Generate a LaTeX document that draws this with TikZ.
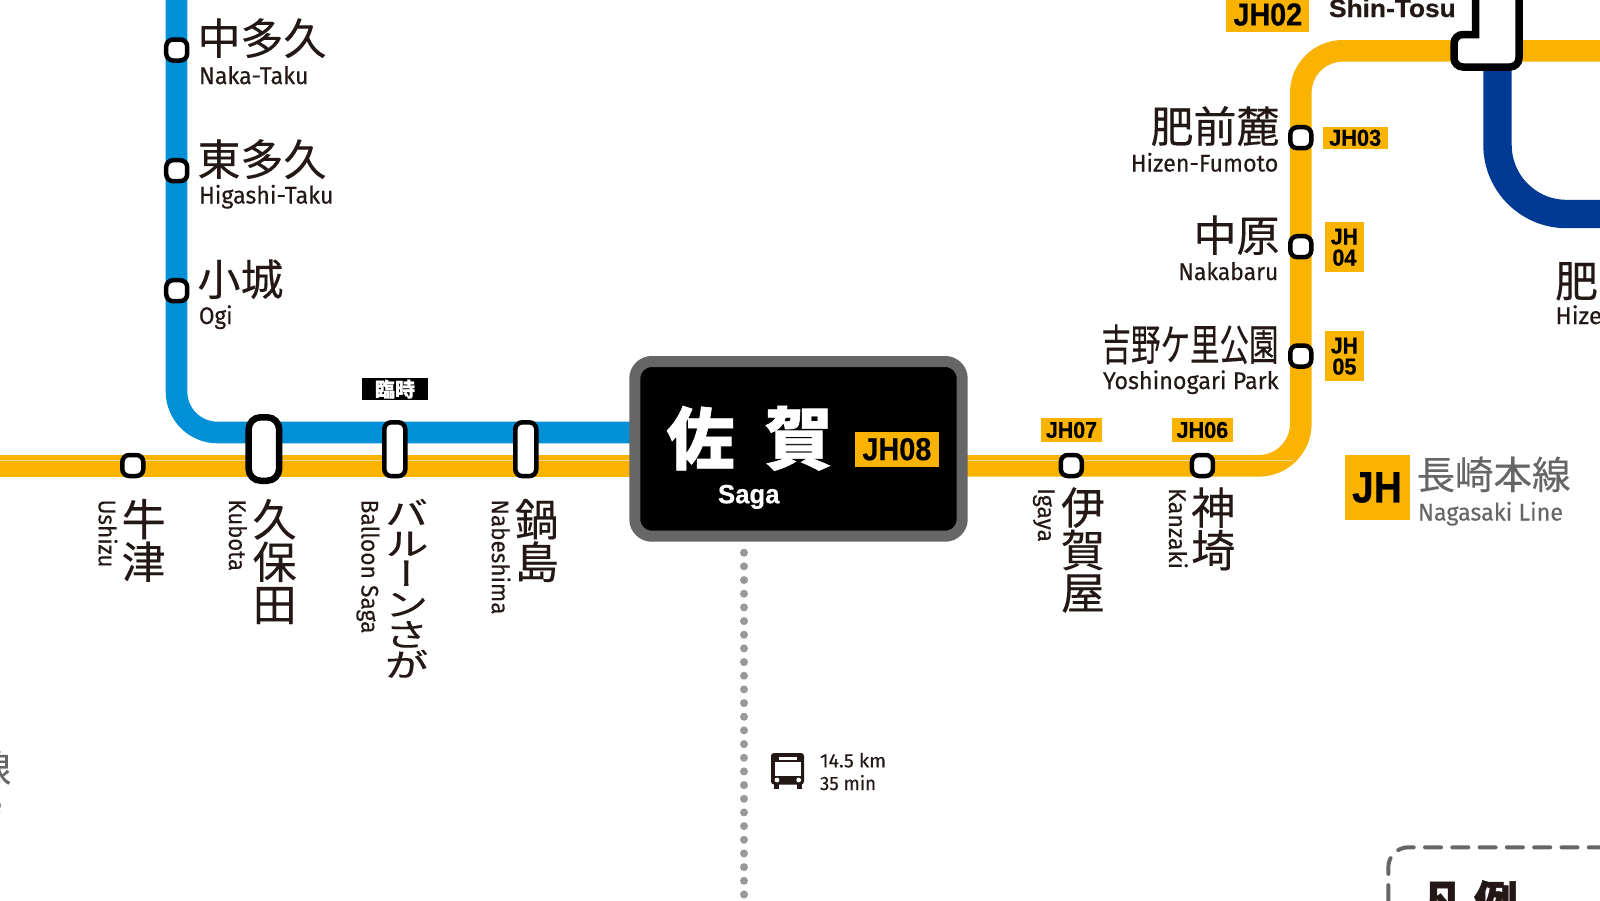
\documentclass[tikz,border=0pt]{standalone}
\usepackage{fontspec}
\setmainfont{Fira Sans}[FakeBold=0.25]
\newfontfamily\cjk{Noto Sans CJK JP}[FakeBold=0.25,BoldFeatures={FakeBold=1}]
\newfontfamily\cjkv{Noto Sans CJK JP}[RawFeature=+vert,FakeBold=0.25]
\newfontfamily\din{Liberation Sans}[BoldFeatures={FakeBold=0.5}]
\definecolor{ink}{HTML}{231815}
\definecolor{orangeline}{HTML}{F9B300}
\definecolor{blueline}{HTML}{0090D7}
\definecolor{navyline}{HTML}{003A94}
\definecolor{sagagray}{HTML}{666666}
\definecolor{dotgray}{HTML}{999999}
\newcommand\fitw[2]{\resizebox{#1pt}{\height}{#2}}
\newcommand\vg[1]{\hbox to 44pt{\hss#1\hss}}
\newcommand\noskip{\lineskiplimit=-100pt\relax}
\tikzset{
  base/.style={inner sep=0,outer sep=0},
  jptext/.style={base,text=ink,font=\cjk\fontsize{43}{41}\selectfont},
  entext/.style={base,text=ink,font=\fontsize{24}{24}\selectfont},
  sta/.style={base,draw=black,fill=white,line width=4.5pt,rounded corners=7pt,minimum width=21pt,minimum height=21pt},
  tallsta/.style={sta,minimum height=53.8pt},
  bigsta/.style={sta,line width=6.5pt,rounded corners=12pt,minimum width=30.5pt,minimum height=63.5pt},
  tag/.style={base,fill=orangeline,text=black,align=center,font=\din\bfseries\fontsize{23}{21}\selectfont},
  oline/.style={orangeline,line width=21.6pt},
  hair/.style={white,opacity=.55,line width=1pt},
  jpstack/.style={jptext,align=center,anchor=north,font=\cjk\fontsize{44}{42.5}\selectfont\noskip},
  enrot/.style={entext,rotate=-90,anchor=base west},
}
\begin{document}
\begin{tikzpicture}[x=1pt,y=-1pt]
\useasboundingbox (0,0) rectangle (1600,900);
\clip (0,0) rectangle (1600,900);
\fill[white] (0,0) rectangle (1600,900);
% line coordinates
\coordinate (bTop) at (176.5,-15);
\coordinate (bBend) at (176.5,432.5);
\coordinate (bEnd) at (640,432.5);
\coordinate (oL) at (-5,465.8);
\coordinate (oLend) at (640,465.8);
\coordinate (oR) at (960,465.8);
\coordinate (oBend1) at (1300.8,465.8);
\coordinate (oBend2) at (1300.8,50.8);
\coordinate (oEnd) at (1605,50.8);
\coordinate (nStart) at (1497.5,60);
\coordinate (nBend) at (1497.5,214);
\coordinate (nEnd) at (1605,214);
\coordinate (hL) at (-5,460.7);
\coordinate (hLe) at (632,460.7);
\coordinate (hR) at (965,460.7);
\coordinate (hRe) at (1293,460.7);
\coordinate (dotA) at (744,552.7);
\coordinate (dotB) at (744,905);
% lines
\draw[blueline,line width=21.6pt,rounded corners=41pt] (bTop) -- (bBend) -- (bEnd);
\draw[oline] (oL) -- (oLend);
\draw[oline,rounded corners=42pt] (oR) -- (oBend1) -- (oBend2) -- (oEnd);
\draw[hair] (hL) -- (hLe);
\draw[hair] (hR) -- (hRe);
\draw[navyline,line width=28.4pt,rounded corners=69pt] (nStart) -- (nBend) -- (nEnd);
\draw[dotgray,line width=8pt,line cap=round,dash pattern=on 0pt off 13.67pt] (dotA) -- (dotB);
% Shin-Tosu station
\draw[black,fill=white,line width=7.5pt,rounded corners=0pt] (1475.5,-20) -- (1475.5,34.5) [rounded corners=9pt] -- (1454,34.5) -- (1454,67) -- (1519,67) -- (1519,-20);
% Saga box
\node[base,draw=sagagray,fill=black,line width=11pt,rounded corners=17pt,minimum width=327.4pt,minimum height=174.7pt] (saga) at (798.5,448.85) {};
\node[base,text=white,font=\cjk\bfseries\fontsize{68}{68}\selectfont,anchor=base] (sagaJ) at (749.5,464) {佐\hspace{30pt}賀};
\node[entext,text=white,font=\din\bfseries\fontsize{26.5}{28}\selectfont,anchor=base west] (sagaE) at (718,503.3) {\fitw{61.5}{Saga}};
\node[tag,minimum width=83.7pt,minimum height=35pt,font=\din\bfseries\fontsize{31.7}{33}\selectfont] (t08) at (896.9,449.2) {\fitw{69}{JH08}};
% stations
\node[sta] (s1) at (176.7,50) {};
\node[sta] (s2) at (176.7,170.7) {};
\node[sta] (s3) at (176.7,290.7) {};
\node[sta] (ushizu) at (132.8,465.5) {};
\node[bigsta] (kubota) at (263.9,449) {};
\node[tallsta] (balloon) at (394.8,449.2) {};
\node[tallsta] (nabe) at (525.8,449.2) {};
\node[sta] (igaya) at (1071.3,465.5) {};
\node[sta] (kanzaki) at (1202.4,465.5) {};
\node[sta] (jh5) at (1300.8,356) {};
\node[sta] (jh4) at (1300.8,246.7) {};
\node[sta] (jh3) at (1300.8,137.7) {};
% left labels
\node[jptext,anchor=base west] (l1j) at (197.5,54.5) {中多久};
\node[entext,anchor=base west] (l1e) at (199,84) {\fitw{109.5}{Naka-Taku}};
\node[jptext,anchor=base west] (l2j) at (197.5,175.5) {東多久};
\node[entext,anchor=base west] (l2e) at (199,203.5) {\fitw{134.5}{Higashi-Taku}};
\node[jptext,anchor=base west] (l3j) at (197.5,295.5) {小城};
\node[entext,anchor=base west] (l3e) at (199,324) {\fitw{33.5}{Ogi}};
% right labels
\node[jptext,anchor=base east] (r3j) at (1279.5,142.5) {肥前麓};
\node[entext,anchor=base east] (r3e) at (1278.3,171.5) {\fitw{147.6}{Hizen-Fumoto}};
\node[jptext,anchor=base east] (r4j) at (1279.5,251.5) {中原};
\node[entext,anchor=base east] (r4e) at (1278.3,280) {\fitw{100}{Nakabaru}};
\node[jptext,anchor=base east] (r5j) at (1278.5,360.5) {\fitw{177}{吉野ケ里公園}};
\node[entext,anchor=base east] (r5e) at (1278.6,389) {\fitw{175.6}{Yoshinogari Park}};
\node[jptext,anchor=base west] (hizej) at (1555,297) {肥前};
\node[entext,anchor=base west] (hizee) at (1555.5,324) {Hizen};
% vertical labels
\node[jpstack] (v1j) at (143.7,499) {牛\\津};
\node[enrot] (v1e) at (98.7,499.5) {\fitw{68}{Ushizu}};
\node[jpstack] (v2j) at (274.6,499) {久\\保\\田};
\node[enrot] (v2e) at (229,499.5) {\fitw{71.5}{Kubota}};
\node[base,text=ink,anchor=north,font=\cjkv\fontsize{44}{41.3}\selectfont\noskip] (v3j) at (406.6,499) {\scalebox{1}[.735]{\vbox{\baselineskip=41.3pt\vg{バ}\vg{ル}\vg{ー}\vg{ン}\vg{さ}\vg{が}}}};
\node[enrot] (v3e) at (361.5,499.5) {\fitw{134}{Balloon Saga}};
\node[jpstack] (v4j) at (537,499) {鍋\\島};
\node[enrot] (v4e) at (491.8,499.5) {\fitw{115}{Nabeshima}};
\node[jpstack] (v5j) at (1083,487.3) {伊\\賀\\屋};
\node[enrot] (v5e) at (1038,488) {\fitw{54}{Igaya}};
\node[jpstack] (v6j) at (1213.2,487.3) {神\\埼};
\node[enrot] (v6e) at (1169,488) {\fitw{81}{Kanzaki}};
% tags
\node[tag,minimum width=83pt,minimum height=35pt,font=\din\bfseries\fontsize{31.7}{33}\selectfont] (t02) at (1267.8,14.5) {\fitw{68.7}{JH02}};
\node[entext,font=\din\bfseries\fontsize{25}{27}\selectfont,anchor=base west] (shin) at (1329,17) {\fitw{126.7}{Shin-Tosu}};
\node[tag,minimum width=65pt,minimum height=21.7pt] (t03) at (1355.2,137.8) {\fitw{52}{JH03}};
\node[tag,minimum width=39.3pt,minimum height=50.3pt] (t04) at (1344.4,247.2) {\fitw{27}{JH}\\\fitw{24}{04}};
\node[tag,minimum width=39.3pt,minimum height=50.3pt] (t05) at (1344.4,356.2) {\fitw{27}{JH}\\\fitw{24}{05}};
\node[tag,minimum width=61pt,minimum height=23.4pt] (t07) at (1071.5,430) {\fitw{51}{JH07}};
\node[tag,minimum width=61.2pt,minimum height=23.4pt] (t06) at (1202.4,430) {\fitw{51.7}{JH06}};
\node[tag,minimum width=65pt,minimum height=65pt,font=\din\bfseries\fontsize{44}{46}\selectfont] (jh) at (1377,487.5) {\fitw{50}{JH}};
\node[base,fill=black,text=white,minimum width=66pt,minimum height=21.7pt,font=\cjk\bfseries\fontsize{20}{20}\selectfont] (rinji) at (395,389.2) {臨時};
% line name
\node[jptext,text=sagagray,font=\cjk\fontsize{38.5}{38}\selectfont,anchor=base west] (naga) at (1416.5,489) {長崎本線};
\node[entext,text=sagagray,anchor=base west] (nagae) at (1418,520.5) {\fitw{145}{Nagasaki Line}};
\node[jptext,text=sagagray,font=\cjk\fontsize{38}{38}\selectfont,anchor=base east] (senj) at (11,783) {線};
\node[entext,text=sagagray,anchor=base east] (sene) at (2,813) {Line};
% bus
\fill[ink,rounded corners=3pt] (771,753) rectangle (804,784.5);
\fill[ink] (773.7,783) rectangle (778.6,789);
\fill[ink] (796.7,783) rectangle (801.6,789);
\fill[white] (774.7,761.7) rectangle (800.7,776);
\fill[white] (778.7,757) rectangle (796.7,759.7);
\fill[white] (777,780) circle (2.4);
\fill[white] (798.7,780) circle (2.4);
\node[entext,font=\fontsize{19.3}{20}\selectfont,anchor=base west] (bus1) at (820,767.3) {\fitw{66}{14.5 km}};
\node[entext,font=\fontsize{19.3}{20}\selectfont,anchor=base west] (bus2) at (820,790) {\fitw{56}{35 min}};
% legend
\draw[sagagray,line width=4pt,line cap=round,rounded corners=20pt,dash pattern=on 16pt off 11.3pt] (1604.8,847.3) -- (1388.3,847.3) -- (1388.3,950);
\node[jptext,font=\cjk\bfseries\fontsize{44}{44}\selectfont,anchor=base west] (legend) at (1421,918) {凡\hspace{9pt}例};
\end{tikzpicture}
\end{document}
